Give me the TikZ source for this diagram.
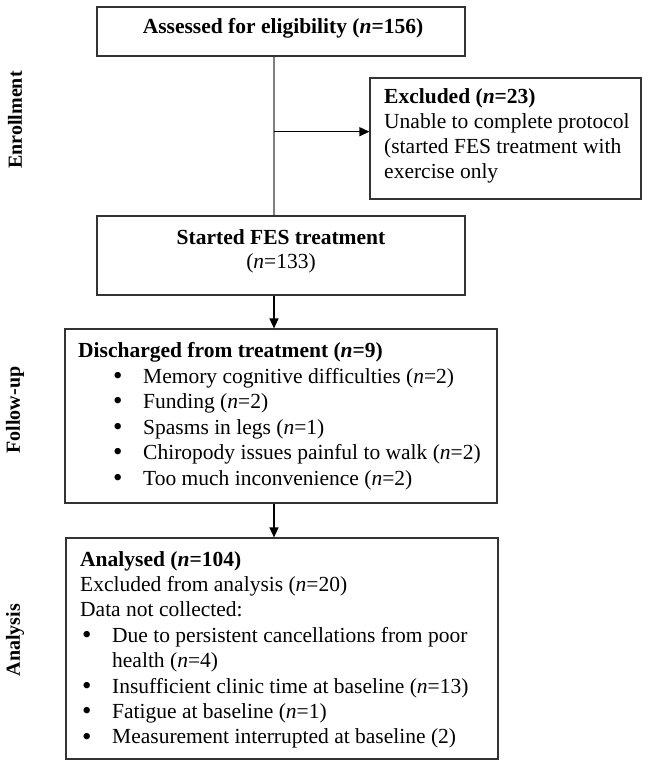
\documentclass[tikz,border=0pt]{standalone}
\usepackage{fontspec}
\setmainfont{Liberation Serif}
\usetikzlibrary{arrows.meta}
\newcommand{\blt}{\makebox[30pt][l]{\raisebox{-1.2pt}{\scalebox{1.25}{\textbullet}}}}
\begin{document}
\begin{tikzpicture}[x=1pt,y=-1pt,
  box/.style={draw=black!80,line width=1.2pt,inner sep=0pt,fill=none},
  txt/.style={inner sep=0pt,font=\fontsize{21.5}{25}\selectfont},
  sidelbl/.style={inner sep=0pt,rotate=90,font=\fontsize{20}{24}\selectfont\bfseries},
  trunkline/.style={draw=black!50,line width=1.2pt},
  flow/.style={draw=black,line width=1.4pt,-{Triangle[length=10pt,width=9pt]}}]
\useasboundingbox (0,0) rectangle (647,778);
% boxes
\node[box,minimum width=368pt,minimum height=49pt] (assess) at (281,31.5) {};
\node[box,minimum width=271pt,minimum height=121pt] (excl) at (505.5,138.5) {};
\node[box,minimum width=368pt,minimum height=79pt] (start) at (281,255.5) {};
\node[box,minimum width=432pt,minimum height=174pt] (disch) at (281,416) {};
\node[box,minimum width=432pt,minimum height=221pt] (anal) at (282,648.5) {};
% side labels
\node[sidelbl] (lenr) at (15,120) {Enrollment};
\node[sidelbl] (lfol) at (15,410) {Follow-up};
\node[sidelbl] (lana) at (15,640) {Analysis};
% texts
\node[txt,anchor=base] (t1) at (283,34) {\textbf{Assessed for eligibility (\textit{n}=156)}};
\node[txt,anchor=base west] (e1) at (384,104) {\textbf{Excluded (\textit{n}=23)}};
\node[txt,anchor=base west] (e2) at (384,128.7) {Unable to complete protocol};
\node[txt,anchor=base west] (e3) at (384,153.4) {(started FES treatment with};
\node[txt,anchor=base west] (e4) at (384,178.1) {exercise only};
\node[txt,anchor=base] (s1) at (281,244) {\textbf{Started FES treatment}};
\node[txt,anchor=base] (s2) at (281,268) {(\textit{n}=133)};
\node[txt,anchor=base west] (d0) at (78,357) {\textbf{Discharged from treatment (\textit{n}=9)}};
\node[txt,anchor=base west] (d1) at (113,383) {\blt Memory cognitive difficulties (\textit{n}=2)};
\node[txt,anchor=base west] (d2) at (113,408.5) {\blt Funding (\textit{n}=2)};
\node[txt,anchor=base west] (d3) at (113,434) {\blt Spasms in legs (\textit{n}=1)};
\node[txt,anchor=base west] (d4) at (113,459.5) {\blt Chiropody issues painful to walk (\textit{n}=2)};
\node[txt,anchor=base west] (d5) at (113,485) {\blt Too much inconvenience (\textit{n}=2)};
\node[txt,anchor=base west] (a0) at (80,566) {\textbf{Analysed (\textit{n}=104)}};
\node[txt,anchor=base west] (a1) at (80,591.4) {Excluded from analysis (\textit{n}=20)};
\node[txt,anchor=base west] (a2) at (80,616.8) {Data not collected:};
\node[txt,anchor=base west] (a3) at (82,642.2) {\blt Due to persistent cancellations from poor};
\node[txt,anchor=base west] (a4) at (112,667.6) {health (\textit{n}=4)};
\node[txt,anchor=base west] (a5) at (82,693) {\blt Insufficient clinic time at baseline (\textit{n}=13)};
\node[txt,anchor=base west] (a6) at (82,718.4) {\blt Fatigue at baseline (\textit{n}=1)};
\node[txt,anchor=base west] (a7) at (82,743.8) {\blt Measurement interrupted at baseline (2)};
% connectors
\coordinate (trunk) at (274,131.7);
\draw[trunkline] (trunk |- assess.south) -- (trunk |- start.north);
\draw[flow] (trunk) -- (trunk -| excl.west);
\draw[flow] (trunk |- start.south) -- (trunk |- disch.north);
\draw[flow] (trunk |- disch.south) -- (trunk |- anal.north);
\end{tikzpicture}
\end{document}
